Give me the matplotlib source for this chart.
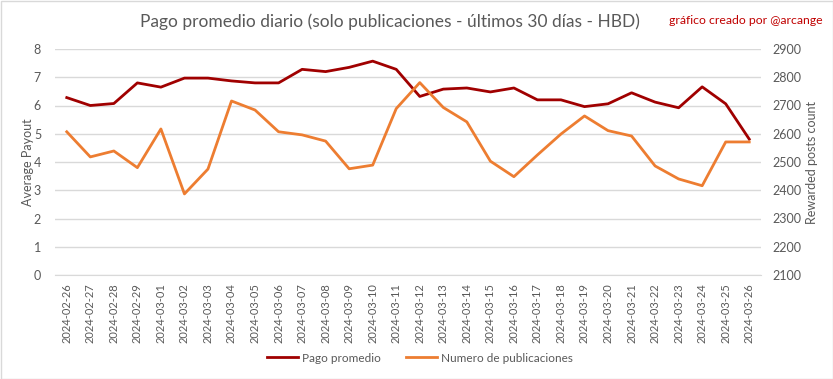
import matplotlib
matplotlib.use("Agg")
import matplotlib.pyplot as plt

dates = ["2024-02-26", "2024-02-27", "2024-02-28", "2024-02-29", "2024-03-01",
         "2024-03-02", "2024-03-03", "2024-03-04", "2024-03-05", "2024-03-06",
         "2024-03-07", "2024-03-08", "2024-03-09", "2024-03-10", "2024-03-11",
         "2024-03-12", "2024-03-13", "2024-03-14", "2024-03-15", "2024-03-16",
         "2024-03-17", "2024-03-18", "2024-03-19", "2024-03-20", "2024-03-21",
         "2024-03-22", "2024-03-23", "2024-03-24", "2024-03-25", "2024-03-26"]
pago_promedio = [6.28, 6.00, 6.07, 6.80, 6.65, 6.97, 6.97, 6.87, 6.80, 6.80,
                 7.28, 7.20, 7.35, 7.57, 7.28, 6.32, 6.58, 6.62, 6.48, 6.62,
                 6.20, 6.20, 5.96, 6.06, 6.45, 6.12, 5.92, 6.66, 6.06, 4.81]
num_publicaciones = [2607, 2518, 2539, 2480, 2617, 2387, 2475, 2716, 2684, 2607,
                     2596, 2574, 2476, 2489, 2689, 2781, 2693, 2642, 2503, 2448,
                     2525, 2599, 2663, 2611, 2592, 2486, 2440, 2416, 2571, 2571]
left_ticks = [0, 1, 2, 3, 4, 5, 6, 7, 8]
right_ticks = [2100, 2200, 2300, 2400, 2500, 2600, 2700, 2800, 2900]

plt.rcParams['font.family'] = ['Lato', 'DejaVu Sans']
gray = "#595959"
grid = "#D9D9D9"
red = "#A00000"
orange = "#ED7D31"

fig = plt.figure(figsize=(8.33, 3.79), dpi=100)
ax = fig.add_axes([55/833, 1-275/379, 706/833, 226/379])
ax2 = ax.twinx()

x = list(range(len(dates)))
l1, = ax.plot(x, pago_promedio, color=red, lw=2.0, label="Pago promedio", zorder=3)
l2, = ax2.plot(x, num_publicaciones, color=orange, lw=2.0, label="Numero de publicaciones", zorder=3)

ax.set_xlim(-0.5, len(dates)-0.5)
ax.set_ylim(0, 8)
ax.set_yticks(left_ticks)
ax2.set_ylim(2100, 2900)
ax2.set_yticks(right_ticks)
ax.set_xticks(x)
ax.set_xticklabels(dates, rotation=90, fontsize=8, color=gray)
ax.tick_params(axis='x', length=0, pad=6)
ax.tick_params(axis='y', length=0, labelsize=9, labelcolor=gray, pad=10)
ax2.tick_params(axis='y', length=0, labelsize=9, labelcolor=gray, pad=8)
ax.grid(axis='y', color=grid, lw=1)
ax.set_axisbelow(True)
for a in (ax, ax2):
    for s in a.spines.values():
        s.set_visible(False)
ax.spines['bottom'].set_visible(True)
ax.spines['bottom'].set_color(grid)

ax.set_ylabel("Average Payout", color=gray, fontsize=9)
ax2.set_ylabel("Rewarded posts count", color=gray, fontsize=9)
ax.yaxis.set_label_coords((34-55)/706, 0.5)
ax2.yaxis.set_label_coords((806-55)/706, 0.5)

fig.text(390/833, 1-22/379, "Pago promedio diario (solo publicaciones - últimos 30 días - HBD)",
         ha='center', va='center', fontsize=12.5, color=gray)
fig.text(823/833, 1-20/379, "gráfico creado por @arcange", ha='right', va='center',
         fontsize=8.8, color="#C00000")

fig.legend(handles=[l1, l2], loc='center', bbox_to_anchor=(420/833, 1-358/379),
           ncol=2, frameon=False, fontsize=8.5, labelcolor=gray, handlelength=2.6,
           columnspacing=2.2, handletextpad=0.3)

fig.patches.append(plt.Rectangle((0.5/833, 0.5/379), 1-1/833, 1-1/379, transform=fig.transFigure,
                                 fill=False, edgecolor=grid, lw=1))
fig.savefig("out.png", dpi=100)
